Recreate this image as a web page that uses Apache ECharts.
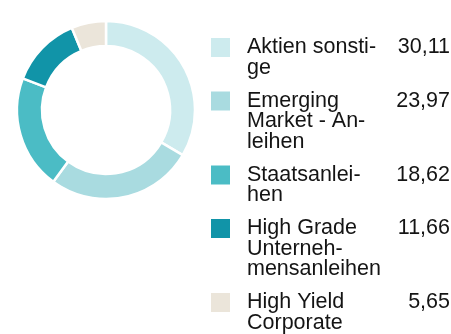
<!DOCTYPE html>
<html>
<head>
<meta charset="utf-8">
<script src="https://cdn.jsdelivr.net/npm/echarts@6/dist/echarts.min.js"></script>
<style>
  html, body { margin: 0; padding: 0; background: #fff; }
  #chart { width: 451px; height: 334px; }
</style>
</head>
<body>
<div id="chart"></div>
<script>
// Portfolio breakdown (percent)
const categories = [
  'Aktien sonstige',
  'Emerging Market - Anleihen',
  'Staatsanleihen',
  'High Grade Unternehmensanleihen',
  'High Yield Corporate'
];
// Hyphenated line breaks used in the legend
const legendLines = [
  ['Aktien sonsti-', 'ge'],
  ['Emerging', 'Market - An-', 'leihen'],
  ['Staatsanlei-', 'hen'],
  ['High Grade', 'Unterneh-', 'mensanleihen'],
  ['High Yield', 'Corporate']
];
const values = [30.11, 23.97, 18.62, 11.66, 5.65];
const valueLabels = ['30,11', '23,97', '18,62', '11,66', '5,65'];
const colors = ['#cdebee', '#a9dbe0', '#4bbcc5', '#1194a8', '#ebe5da'];

const FONT = '"Liberation Sans", Arial, sans-serif';
const FONT_SIZE = 21.5;
const LINE_H = 20.5;
const ITEM_GAP = 12.5;

// Legend rows: square + wrapped name + right-aligned value
const legendGraphics = [];
let yCenter = 47.5;
legendLines.forEach((lines, i) => {
  legendGraphics.push({
    type: 'rect',
    shape: { x: 211, y: yCenter - 9.5, width: 19, height: 19 },
    style: { fill: colors[i] }
  });
  legendGraphics.push({
    type: 'text',
    x: 247,
    y: yCenter - LINE_H / 2,
    style: {
      text: lines.join('\n'),
      font: FONT_SIZE + 'px ' + FONT,
      lineHeight: LINE_H,
      fill: '#141414',
      verticalAlign: 'top',
      align: 'left'
    }
  });
  legendGraphics.push({
    type: 'text',
    x: 450,
    y: yCenter - LINE_H / 2,
    style: {
      text: valueLabels[i],
      font: FONT_SIZE + 'px ' + FONT,
      lineHeight: LINE_H,
      fill: '#141414',
      verticalAlign: 'top',
      align: 'right'
    }
  });
  yCenter += lines.length * LINE_H + ITEM_GAP;
});

const chart = echarts.init(document.getElementById('chart'), null, { renderer: 'canvas' });
chart.setOption({
  animation: false,
  backgroundColor: '#ffffff',
  color: colors,
  series: [{
    type: 'pie',
    center: [106, 110],
    radius: [64, 89],
    startAngle: 90,
    clockwise: true,
    label: { show: false },
    labelLine: { show: false },
    emphasis: { disabled: true },
    itemStyle: { borderColor: '#ffffff', borderWidth: 2.5 },
    data: categories.map((name, i) => ({ name: name, value: values[i] }))
  }],
  graphic: legendGraphics
});
</script>
</body>
</html>
